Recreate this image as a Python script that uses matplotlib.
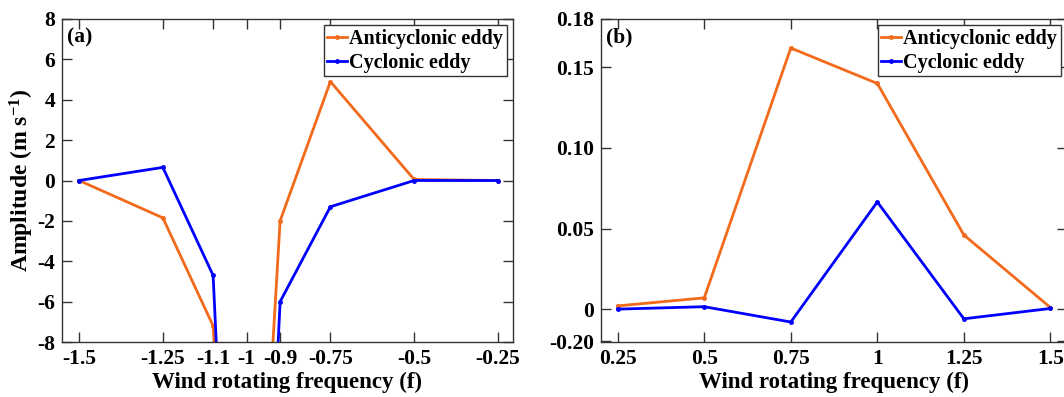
import matplotlib
matplotlib.use("Agg")
import matplotlib.pyplot as plt

plt.rcParams["font.family"] = ["Liberation Serif", "DejaVu Serif"]
plt.rcParams["font.weight"] = "bold"
plt.rcParams["axes.unicode_minus"] = False
plt.rcParams["mathtext.fontset"] = "custom"
plt.rcParams["mathtext.bf"] = "Liberation Serif:bold"
plt.rcParams["mathtext.rm"] = "Liberation Serif:bold"
plt.rcParams["mathtext.default"] = "bf"

# Panel (a): negative wind rotating frequencies
freq_a = [-1.5, -1.25, -1.1, -1.0, -0.9, -0.75, -0.5, -0.25]
anti_a = [0.0, -1.85, -7.2, -30.0, -2.0, 4.9, 0.05, 0.0]
cyc_a = [0.0, 0.65, -4.7, -40.0, -6.0, -1.3, 0.0, 0.0]
xticks_a = [-1.5, -1.25, -1.1, -1.0, -0.9, -0.75, -0.5, -0.25]
xlabels_a = ["-1.5", "-1.25", "-1.1", "-1", "-0.9", "-0.75", "-0.5", "-0.25"]
yticks_a = [-8, -6, -4, -2, 0, 2, 4, 6, 8]

# Panel (b): positive wind rotating frequencies
freq_b = [0.25, 0.5, 0.75, 1.0, 1.25, 1.5]
anti_b = [0.002, 0.007, 0.162, 0.140, 0.046, 0.001]
cyc_b = [0.0, 0.0015, -0.008, 0.0665, -0.006, 0.0004]
xticks_b = [0.25, 0.5, 0.75, 1.0, 1.25, 1.5]
xlabels_b = ["0.25", "0.5", "0.75", "1", "1.25", "1.5"]
yticks_b = [-0.02, 0, 0.05, 0.10, 0.15, 0.18]
ylabels_b = ["-0.20", "0", "0.05", "0.10", "0.15", "0.18"]

orange = "#f26a1b"
blue = "#0000ff"
fs = 15.5

W, H = 1064, 397
fig = plt.figure(figsize=(W / 100, H / 100), dpi=100)
ax1 = fig.add_axes([62 / W, 55 / H, 451 / W, 323 / H])
ax2 = fig.add_axes([601 / W, 55 / H, 466 / W, 323 / H])


def estilo(ax):
    ax.tick_params(direction="in", top=True, right=True, length=7, width=1,
                   labelsize=fs, pad=5, color="#333333")
    for sp in ax.spines.values():
        sp.set_color("#333333")
        sp.set_linewidth(1)
    ax.set_xlabel("Wind rotating frequency (f)", fontsize=16.5, fontweight="bold", labelpad=2)
    ax.legend(loc="upper right", fontsize=14.5, handlelength=1.0, handletextpad=0.1,
              borderpad=0.18, labelspacing=0.2, borderaxespad=0.3,
              fancybox=False, edgecolor="#333333", framealpha=1)
    ax.get_legend().get_frame().set_linewidth(1)


ax1.plot(freq_a, anti_a, color=orange, lw=2, marker=".", ms=5, label="Anticyclonic eddy")
ax1.plot(freq_a, cyc_a, color=blue, lw=2, marker=".", ms=5, label="Cyclonic eddy")
ax1.set_xlim(-1.551, -0.205)
ax1.set_ylim(-8, 8)
ax1.set_xticks(xticks_a, xlabels_a)
ax1.set_yticks(yticks_a)
ax1.set_ylabel("Amplitude (m s$^{-1}$)", fontsize=17, fontweight="bold", labelpad=1)
ax1.text(0.01, 0.975, "(a)", transform=ax1.transAxes, fontsize=fs, fontweight="bold",
         va="top", ha="left")
estilo(ax1)

ax2.plot(freq_b, anti_b, color=orange, lw=2, marker=".", ms=5, label="Anticyclonic eddy")
ax2.plot(freq_b, cyc_b, color=blue, lw=2, marker=".", ms=5, label="Cyclonic eddy")
ax2.set_xlim(0.2017, 1.548)
ax2.set_ylim(-0.0204, 0.18)
ax2.set_xticks(xticks_b, xlabels_b)
ax2.set_yticks(yticks_b, ylabels_b)
ax2.text(0.01, 0.975, "(b)", transform=ax2.transAxes, fontsize=fs, fontweight="bold",
         va="top", ha="left")
estilo(ax2)

fig.savefig("out.png", dpi=100)
